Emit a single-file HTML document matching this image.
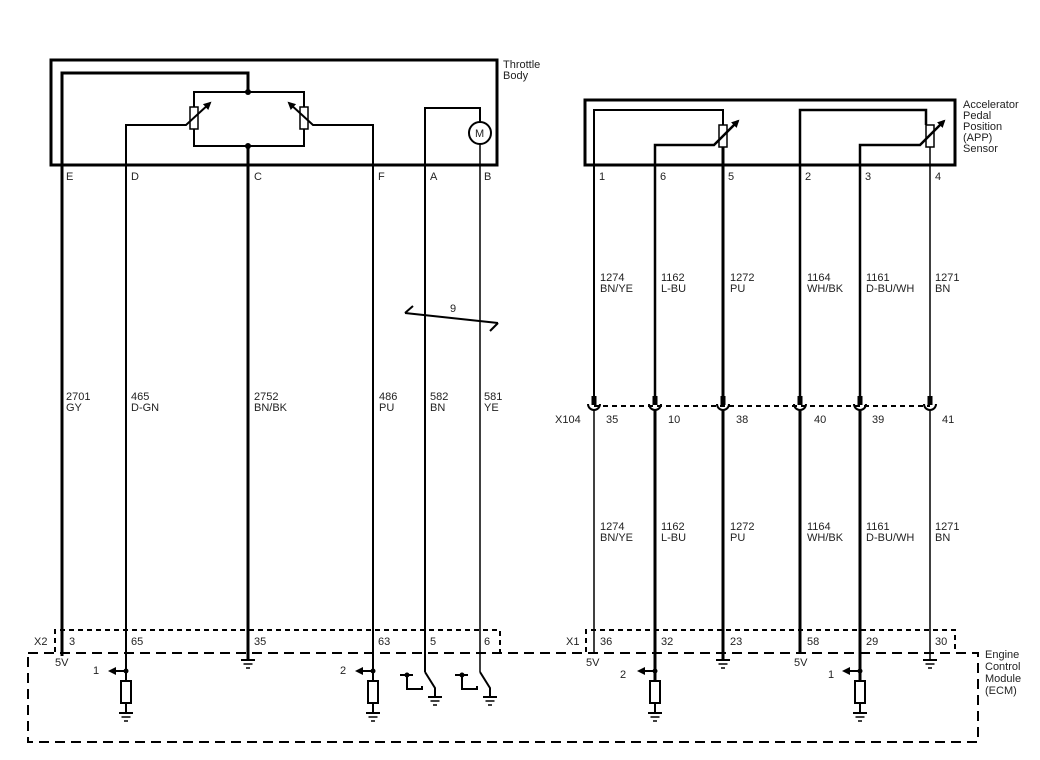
<!DOCTYPE html>
<html><head><meta charset="utf-8"><style>
html,body{margin:0;padding:0;background:#fff;}
svg{display:block;}
text{font-family:"Liberation Sans",sans-serif;font-size:11px;fill:#222;}
</style></head><body>
<svg width="1040" height="760" viewBox="0 0 1040 760" xmlns="http://www.w3.org/2000/svg">
<defs>
<marker id="ah" markerWidth="8" markerHeight="8" refX="6" refY="4" orient="auto" markerUnits="userSpaceOnUse">
<path d="M0,0 L8,4 L0,8 Z" fill="#000"/></marker>
<g id="gnd"><line x1="-7" y1="0" x2="7" y2="0" stroke="#000" stroke-width="2"/><line x1="-4.5" y1="4" x2="4.5" y2="4" stroke="#000" stroke-width="1.5"/><line x1="-2" y1="8" x2="2" y2="8" stroke="#000" stroke-width="1.5"/></g>
</defs>
<g fill="none" stroke="#000">
<rect x="51" y="60" width="446" height="105" stroke-width="3"/>
<polyline points="62,656 62,73 248,73 248,92" stroke-width="3"/>
<rect x="194" y="92" width="110" height="54" stroke-width="2"/>
<rect x="190" y="107" width="8" height="22" fill="#fff" stroke-width="1.5"/>
<rect x="300" y="107" width="8" height="22" fill="#fff" stroke-width="1.5"/>
<polyline points="126,680 126,125 186,125 210,103" stroke-width="2" marker-end="url(#ah)"/>
<polyline points="373,680 373,125 313,125 289,103" stroke-width="2" marker-end="url(#ah)"/>
<line x1="248" y1="146" x2="248" y2="660" stroke-width="3"/>
<polyline points="425,672 425,108 480,108 480,122" stroke-width="2"/>
<circle cx="480" cy="133" r="11" stroke-width="2" fill="#fff"/>
<polyline points="480,144 480,672" stroke-width="1.5"/>
<polyline points="405,313 498,323" stroke-width="2"/>
<polyline points="405,313 413,306" stroke-width="2"/>
<polyline points="498,323 490,331" stroke-width="2"/>
<rect x="585" y="100" width="370" height="65" stroke-width="3"/>
<polyline points="594,400 594,110 723,110 723,125" stroke-width="2"/>
<rect x="719" y="125" width="8" height="22" fill="#fff" stroke-width="1.5"/>
<polyline points="655,400 655,145 714,145 738,121" stroke-width="2.5" marker-end="url(#ah)"/>
<line x1="723" y1="147" x2="723" y2="400" stroke-width="3"/>
<polyline points="800,400 800,110 926,110 926,125" stroke-width="2.5"/>
<rect x="926" y="125" width="8" height="22" fill="#fff" stroke-width="1.5"/>
<polyline points="860,400 860,145 920,145 944,121" stroke-width="2.5" marker-end="url(#ah)"/>
<line x1="930" y1="147" x2="930" y2="400" stroke-width="1.5"/>
<line x1="594" y1="406" x2="930" y2="406" stroke-width="2" stroke-dasharray="5,4"/>
</g>
<g fill="none" stroke="#000">
<g stroke-width="2">
<path d="M588,404 a6,6 0 0 0 12,0"/><path d="M649,404 a6,6 0 0 0 12,0"/><path d="M717,404 a6,6 0 0 0 12,0"/>
<path d="M794,404 a6,6 0 0 0 12,0"/><path d="M854,404 a6,6 0 0 0 12,0"/><path d="M924,404 a6,6 0 0 0 12,0"/>
</g>
<g stroke-width="5"><line x1="594" y1="396" x2="594" y2="405"/><line x1="655" y1="396" x2="655" y2="405"/><line x1="723" y1="396" x2="723" y2="405"/><line x1="800" y1="396" x2="800" y2="405"/><line x1="860" y1="396" x2="860" y2="405"/><line x1="930" y1="396" x2="930" y2="405"/></g>
<line x1="594" y1="410" x2="594" y2="652" stroke-width="1.5"/>
<line x1="655" y1="410" x2="655" y2="681" stroke-width="3"/>
<line x1="723" y1="410" x2="723" y2="660" stroke-width="3"/>
<line x1="800" y1="410" x2="800" y2="652" stroke-width="3"/>
<line x1="860" y1="410" x2="860" y2="681" stroke-width="3"/>
<line x1="930" y1="410" x2="930" y2="660" stroke-width="1.5"/>
<path d="M55,652 L55,630 L500,630 L500,652" stroke-width="2" stroke-dasharray="5,4"/>
<path d="M586,652 L586,630 L955,630 L955,652" stroke-width="2" stroke-dasharray="5,4"/>
<rect x="28" y="653" width="950" height="89" stroke-width="2" stroke-dasharray="10,6"/>
<g stroke-width="2">
<line x1="126" y1="671" x2="110" y2="671" marker-end="url(#ah)"/>
<rect x="121" y="681" width="10" height="22" fill="#fff"/>
<line x1="126" y1="703" x2="126" y2="713"/>
<line x1="373" y1="671" x2="357" y2="671" marker-end="url(#ah)"/>
<rect x="368" y="681" width="10" height="22" fill="#fff"/>
<line x1="373" y1="703" x2="373" y2="713"/>
<line x1="655" y1="671" x2="639" y2="671" marker-end="url(#ah)"/>
<rect x="650" y="681" width="10" height="22" fill="#fff"/>
<line x1="655" y1="703" x2="655" y2="713"/>
<line x1="860" y1="671" x2="844" y2="671" marker-end="url(#ah)"/>
<rect x="855" y="681" width="10" height="22" fill="#fff"/>
<line x1="860" y1="703" x2="860" y2="713"/>
<polyline points="425,672 435,688 435,697"/>
<polyline points="480,672 490,688 490,697"/>
<polyline points="400,675 413,675"/><polyline points="407,675 407,689 422,689 422,686"/>
<polyline points="455,675 468,675"/><polyline points="462,675 462,689 477,689 477,686"/>
</g>
</g>
<g fill="#000">
<circle cx="248" cy="92" r="3"/><circle cx="248" cy="146" r="3"/>
<circle cx="126" cy="671" r="2.5"/><circle cx="373" cy="671" r="2.5"/><circle cx="655" cy="671" r="2.5"/><circle cx="860" cy="671" r="2.5"/>
<circle cx="407" cy="675" r="2.5"/><circle cx="462" cy="675" r="2.5"/>
</g>
<use href="#gnd" x="126" y="713"/><use href="#gnd" x="373" y="713"/><use href="#gnd" x="655" y="713"/><use href="#gnd" x="860" y="713"/>
<use href="#gnd" x="248" y="660"/><use href="#gnd" x="723" y="660"/><use href="#gnd" x="930" y="660"/>
<use href="#gnd" x="435" y="697"/><use href="#gnd" x="490" y="697"/>
<text x="475" y="137">M</text>
<text x="503" y="68">Throttle</text><text x="503" y="79">Body</text>
<text x="963" y="108">Accelerator</text><text x="963" y="119">Pedal</text><text x="963" y="130">Position</text><text x="963" y="141">(APP)</text><text x="963" y="152">Sensor</text>
<text x="66" y="180">E</text><text x="131" y="180">D</text><text x="254" y="180">C</text><text x="378" y="180">F</text><text x="430" y="180">A</text><text x="484" y="180">B</text>
<text x="599" y="180">1</text><text x="660" y="180">6</text><text x="728" y="180">5</text><text x="805" y="180">2</text><text x="865" y="180">3</text><text x="935" y="180">4</text>
<text x="450" y="312">9</text>
<text x="66" y="400">2701</text><text x="66" y="411">GY</text>
<text x="131" y="400">465</text><text x="131" y="411">D-GN</text>
<text x="254" y="400">2752</text><text x="254" y="411">BN/BK</text>
<text x="379" y="400">486</text><text x="379" y="411">PU</text>
<text x="430" y="400">582</text><text x="430" y="411">BN</text>
<text x="484" y="400">581</text><text x="484" y="411">YE</text>
<text x="600" y="281">1274</text><text x="600" y="292">BN/YE</text>
<text x="661" y="281">1162</text><text x="661" y="292">L-BU</text>
<text x="730" y="281">1272</text><text x="730" y="292">PU</text>
<text x="807" y="281">1164</text><text x="807" y="292">WH/BK</text>
<text x="866" y="281">1161</text><text x="866" y="292">D-BU/WH</text>
<text x="935" y="281">1271</text><text x="935" y="292">BN</text>
<text x="600" y="530">1274</text><text x="600" y="541">BN/YE</text>
<text x="661" y="530">1162</text><text x="661" y="541">L-BU</text>
<text x="730" y="530">1272</text><text x="730" y="541">PU</text>
<text x="807" y="530">1164</text><text x="807" y="541">WH/BK</text>
<text x="866" y="530">1161</text><text x="866" y="541">D-BU/WH</text>
<text x="935" y="530">1271</text><text x="935" y="541">BN</text>
<text x="555" y="423">X104</text>
<text x="606" y="423">35</text><text x="668" y="423">10</text><text x="736" y="423">38</text><text x="814" y="423">40</text><text x="872" y="423">39</text><text x="942" y="423">41</text>
<text x="34" y="645">X2</text><text x="69" y="645">3</text><text x="131" y="645">65</text><text x="254" y="645">35</text><text x="378" y="645">63</text><text x="430" y="645">5</text><text x="484" y="645">6</text>
<text x="566" y="645">X1</text><text x="600" y="645">36</text><text x="661" y="645">32</text><text x="730" y="645">23</text><text x="807" y="645">58</text><text x="866" y="645">29</text><text x="935" y="645">30</text>
<text x="55" y="666">5V</text><text x="586" y="666">5V</text><text x="794" y="666">5V</text>
<text x="93" y="674">1</text><text x="340" y="674">2</text><text x="620" y="678">2</text><text x="828" y="678">1</text>
<text x="985" y="658">Engine</text><text x="985" y="670">Control</text><text x="985" y="682">Module</text><text x="985" y="694">(ECM)</text>
</svg>
</body></html>
